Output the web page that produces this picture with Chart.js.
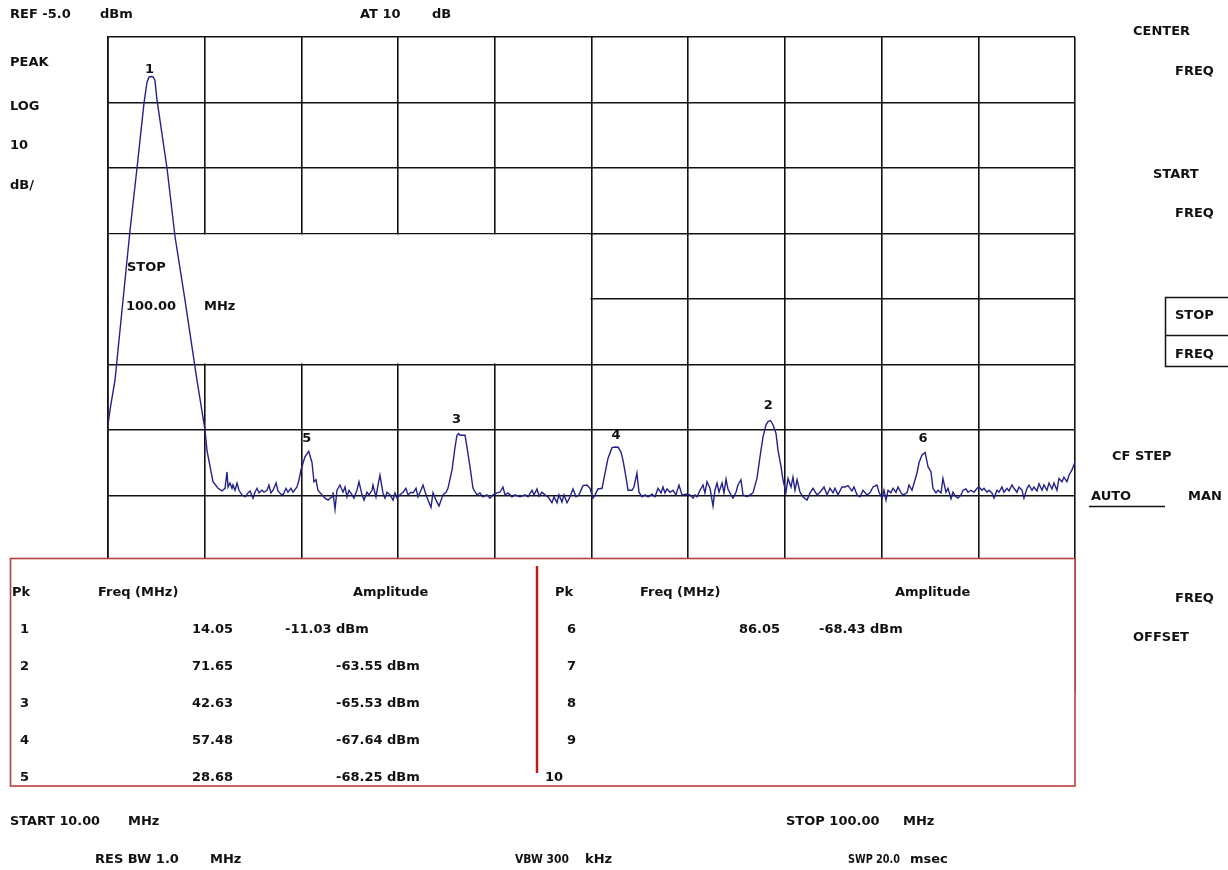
<!DOCTYPE html>
<html><head><meta charset="utf-8">
<script src="https://cdn.jsdelivr.net/npm/chart.js@4/dist/chart.umd.min.js"></script>
<style>html,body{margin:0;padding:0;background:#fff;}canvas{display:block;}</style>
</head><body>
<canvas id="c" width="1228" height="870"></canvas>
<script>
// ---- DATA ----
const traceFreq = [
10.00,10.19,10.65,12.05,12.70,13.35,13.63,13.82,14.05,14.19,14.37,14.56,15.49,16.24,17.17,18.28,19.03,19.21,19.77,20.24,
20.61,20.89,21.08,21.17,21.35,21.54,21.63,21.82,22.01,22.19,22.47,22.75,23.03,23.22,23.50,23.68,23.87,24.05,24.33,24.52,
24.80,24.98,25.17,25.36,25.64,25.82,26.10,26.29,26.57,26.75,27.03,27.22,27.59,27.78,27.96,28.33,28.68,28.99,29.17,29.36,
29.54,29.92,30.20,30.48,30.85,30.94,31.13,31.31,31.59,31.87,32.06,32.24,32.43,32.71,32.89,33.17,33.36,33.64,33.83,34.11,
34.29,34.57,34.66,34.94,35.13,35.31,35.59,35.78,35.97,36.25,36.53,36.71,36.90,37.18,37.46,37.73,37.92,38.20,38.39,38.67,
38.85,39.13,39.32,39.60,39.78,40.06,40.25,40.53,40.81,41.18,41.46,41.64,42.02,42.30,42.48,42.63,42.76,43.23,43.41,43.69,
43.97,44.34,44.62,44.90,45.27,45.55,45.83,46.20,46.48,46.76,46.95,47.23,47.60,47.88,48.35,48.81,49.09,49.46,49.65,49.93,
50.11,50.39,50.67,50.95,51.32,51.51,51.79,51.97,52.25,52.44,52.72,53.00,53.28,53.56,53.84,54.21,54.58,54.86,55.14,55.33,
55.60,55.98,56.26,56.54,56.91,57.19,57.48,57.75,57.93,58.21,58.40,58.77,58.95,59.23,59.42,59.70,59.98,60.26,60.63,60.91,
61.19,61.47,61.65,61.84,62.03,62.31,62.58,62.86,63.14,63.42,63.80,64.17,64.45,64.63,64.82,65.10,65.38,65.56,65.75,66.03,
66.31,66.49,66.68,66.87,67.15,67.33,67.52,67.70,67.98,68.17,68.45,68.63,68.91,69.10,69.47,69.75,70.03,70.40,70.68,70.96,
71.24,71.43,71.65,71.89,72.17,72.36,72.64,72.82,73.10,73.29,73.57,73.75,73.94,74.13,74.41,74.68,75.06,75.34,75.62,75.99,
76.27,76.64,76.92,77.20,77.48,77.66,77.94,78.31,78.59,78.87,79.24,79.43,79.71,79.99,80.27,80.64,80.92,81.20,81.57,81.76,
82.04,82.22,82.41,82.60,82.87,83.06,83.34,83.53,83.81,83.99,84.36,84.55,84.83,85.02,85.29,85.48,85.76,86.05,86.32,86.60,
86.78,87.06,87.25,87.53,87.71,87.99,88.18,88.46,88.64,88.92,89.11,89.39,89.58,89.85,90.04,90.32,90.60,90.88,91.06,91.34,
91.53,91.81,92.00,92.27,92.46,92.74,92.93,93.20,93.39,93.67,93.86,94.14,94.32,94.60,94.79,95.07,95.25,95.53,95.72,96.00,
96.18,96.46,96.65,96.93,97.11,97.39,97.58,97.86,98.04,98.32,98.51,98.79,98.97,99.25,99.44,99.72,100.00
];
const traceDbm = [
-64.2,-61.9,-57.4,-34.5,-25.0,-15.1,-11.9,-11.1,-11.03,-11.1,-11.6,-14.6,-25.0,-35.5,-45.2,-57.4,-65.0,-68.1,-72.9,-73.9,
-74.3,-73.9,-71.4,-73.7,-73.1,-73.9,-73.4,-74.2,-73.1,-74.2,-74.9,-75.2,-74.6,-74.3,-75.4,-74.5,-73.9,-74.6,-74.2,-74.5,
-74.2,-73.4,-74.6,-74.2,-73.1,-74.3,-74.8,-74.9,-73.9,-74.5,-73.9,-74.5,-73.7,-72.6,-71.1,-69.1,-68.25,-70.0,-72.9,-72.6,
-74.2,-74.9,-75.4,-75.7,-75.2,-74.5,-77.1,-74.2,-73.4,-74.5,-73.7,-75.2,-74.2,-74.9,-75.4,-74.2,-72.9,-74.9,-75.7,-74.5,
-74.9,-74.2,-73.4,-75.2,-73.4,-71.9,-74.6,-75.4,-74.5,-74.9,-75.7,-74.6,-75.4,-74.9,-74.5,-73.9,-74.9,-74.5,-74.6,-73.9,
-75.2,-74.2,-73.4,-74.9,-75.7,-76.8,-74.6,-75.7,-76.6,-74.9,-74.5,-73.9,-71.1,-67.6,-65.8,-65.53,-65.8,-65.8,-67.6,-70.6,
-73.9,-74.9,-74.6,-75.2,-74.9,-75.4,-74.9,-74.6,-74.5,-73.7,-74.9,-74.6,-75.2,-74.9,-75.2,-74.9,-75.2,-74.2,-74.9,-74.0,
-75.1,-74.5,-74.9,-75.2,-76.1,-75.2,-76.1,-74.9,-76.0,-74.9,-76.1,-75.2,-74.0,-75.2,-74.9,-73.5,-73.4,-73.9,-75.4,-74.9,
-74.0,-73.9,-71.6,-69.3,-67.7,-67.6,-67.64,-68.4,-69.6,-72.2,-74.2,-74.2,-73.7,-71.6,-74.5,-75.2,-74.9,-75.2,-74.8,-75.2,
-73.9,-74.6,-73.7,-74.6,-74.0,-74.5,-74.2,-74.9,-73.4,-74.9,-74.8,-74.9,-75.4,-74.9,-75.2,-74.2,-73.4,-74.6,-72.9,-73.9,
-76.6,-74.2,-73.1,-74.5,-73.1,-74.6,-72.5,-74.0,-74.9,-75.4,-74.5,-73.4,-72.6,-74.9,-75.2,-74.9,-74.6,-72.4,-69.1,-66.1,
-64.2,-63.7,-63.55,-64.2,-65.5,-68.1,-70.6,-72.6,-74.5,-72.4,-73.7,-72.2,-74.2,-72.6,-74.5,-75.2,-75.7,-74.6,-73.9,-74.9,
-74.5,-73.7,-74.9,-73.9,-74.6,-73.9,-74.9,-73.7,-73.7,-73.5,-74.3,-73.7,-74.9,-75.2,-74.2,-74.9,-74.6,-73.7,-73.4,-74.5,
-75.4,-74.2,-75.7,-74.2,-74.6,-73.9,-74.5,-73.7,-74.6,-74.9,-74.6,-73.4,-74.2,-73.1,-71.6,-70.0,-68.8,-68.43,-70.6,-71.4,
-73.9,-74.6,-74.2,-74.6,-72.4,-74.5,-73.9,-75.5,-74.5,-75.2,-75.4,-74.9,-74.2,-74.0,-74.5,-74.2,-74.5,-73.9,-73.7,-74.2,
-73.9,-74.5,-74.2,-74.6,-75.4,-74.2,-74.5,-73.7,-74.5,-73.9,-74.3,-73.4,-73.9,-74.5,-73.7,-74.2,-75.4,-73.9,-73.4,-74.2,
-73.7,-74.3,-73.2,-74.2,-73.4,-74.2,-73.1,-74.0,-73.1,-74.2,-72.4,-72.9,-72.2,-72.9,-71.9,-71.1,-69.9
];
const peakNum  = [1, 2, 3, 4, 5, 6];
const peakFreq = [14.05, 71.65, 42.63, 57.48, 28.68, 86.05];
const peakAmp  = [-11.03, -63.55, -65.53, -67.64, -68.25, -68.43];
const emptyRows = [7, 8, 9, 10];
const startMHz = 10, stopMHz = 100, refLevel = -5, dbPerDiv = 10, numDivY = 10;

// ---- STYLE ----
const FONT = 'bold 13px "DejaVu Sans"';
const INK = '#111';
const labelLift = [7, 15, 14, 12, 13, 14];
function txt(ctx, s, x, y, align, maxW) {
  ctx.textAlign = align || 'left';
  if (maxW) ctx.fillText(s, x, y, maxW); else ctx.fillText(s, x, y);
}

const overlay = {
  id: 'overlay',
  beforeDatasetsDraw(chart) {
    const {ctx, scales: {x, y}} = chart;
    const l = x.getPixelForValue(startMHz), r = x.getPixelForValue(55);
    const t = y.getPixelForValue(-35), b = y.getPixelForValue(-55);
    ctx.save();
    ctx.fillStyle = '#fff';
    ctx.fillRect(l + 1, t + 1, r - l - 2, b - t - 2);
    ctx.fillStyle = INK; ctx.font = FONT; ctx.textBaseline = 'middle';
    txt(ctx, 'STOP', 127, 268);
    txt(ctx, '100.00', 126, 307);
    txt(ctx, 'MHz', 204, 307);
    ctx.restore();
  },
  afterDraw(chart) {
    const {ctx, scales: {x, y}} = chart;
    ctx.save();
    ctx.fillStyle = INK; ctx.font = FONT; ctx.textBaseline = 'middle';
    peakNum.forEach((n, i) => {
      txt(ctx, String(n), x.getPixelForValue(peakFreq[i]) - 2, y.getPixelForValue(peakAmp[i]) - labelLift[i], 'center');
    });
    txt(ctx, 'REF -5.0', 10, 15); txt(ctx, 'dBm', 100, 15);
    txt(ctx, 'AT 10', 360, 15); txt(ctx, 'dB', 432, 15);
    txt(ctx, 'PEAK', 10, 63); txt(ctx, 'LOG', 10, 107); txt(ctx, '10', 10, 146); txt(ctx, 'dB/', 10, 186);
    txt(ctx, 'CENTER', 1133, 32); txt(ctx, 'FREQ', 1175, 72);
    txt(ctx, 'START', 1153, 175); txt(ctx, 'FREQ', 1175, 214);
    txt(ctx, 'STOP', 1175, 316); txt(ctx, 'FREQ', 1175, 355);
    txt(ctx, 'CF STEP', 1112, 457);
    txt(ctx, 'AUTO', 1091, 497); txt(ctx, 'MAN', 1188, 497);
    txt(ctx, 'FREQ', 1175, 599); txt(ctx, 'OFFSET', 1133, 638);
    ctx.strokeStyle = INK; ctx.lineWidth = 1.5;
    ctx.strokeRect(1165.5, 297.5, 80, 69);
    ctx.beginPath(); ctx.moveTo(1165, 335.5); ctx.lineTo(1228, 335.5);
    ctx.moveTo(1089, 506.5); ctx.lineTo(1165, 506.5); ctx.stroke();
    // marker table
    ctx.fillStyle = '#fff';
    ctx.fillRect(10, 558, 1065, 228);
    ctx.strokeStyle = '#b84040'; ctx.lineWidth = 1.6;
    ctx.strokeRect(10.5, 558.5, 1064.5, 227.5);
    ctx.strokeStyle = '#c01c1c'; ctx.lineWidth = 2.5;
    ctx.beginPath(); ctx.moveTo(537, 566); ctx.lineTo(537, 773); ctx.stroke();
    ctx.fillStyle = INK;
    const rowY = [630, 667, 704, 741, 778];
    txt(ctx, 'Pk', 12, 593); txt(ctx, 'Freq (MHz)', 98, 593); txt(ctx, 'Amplitude', 353, 593);
    txt(ctx, 'Pk', 555, 593); txt(ctx, 'Freq (MHz)', 640, 593); txt(ctx, 'Amplitude', 895, 593);
    peakNum.forEach((n, i) => {
      const right = i >= 5;
      const ry = rowY[right ? i - 5 : i];
      txt(ctx, String(n), right ? 567 : 20, ry);
      txt(ctx, peakFreq[i].toFixed(2), right ? 780 : 233, ry, 'right');
      txt(ctx, peakAmp[i].toFixed(2) + ' dBm', right ? 819 : (i === 0 ? 285 : 336), ry);
    });
    emptyRows.forEach((n, i) => {
      txt(ctx, String(n), n === 10 ? 545 : 567, rowY[i + 1]);
    });
    // footer
    txt(ctx, 'START 10.00', 10, 822, 'left', 90); txt(ctx, 'MHz', 128, 822);
    txt(ctx, 'STOP 100.00', 786, 822, 'left', 96); txt(ctx, 'MHz', 903, 822);
    txt(ctx, 'RES BW 1.0', 95, 860, 'left', 84); txt(ctx, 'MHz', 210, 860);
    txt(ctx, 'VBW 300', 515, 860, 'left', 54); txt(ctx, 'kHz', 585, 860);
    txt(ctx, 'SWP 20.0', 848, 860, 'left', 52); txt(ctx, 'msec', 910, 860);
    ctx.restore();
  }
};

new Chart(document.getElementById('c'), {
  type: 'line',
  data: {
    datasets: [{
      data: traceFreq.map((f, i) => ({x: f, y: traceDbm[i]})),
      borderColor: '#22228a',
      borderWidth: 1.4,
      pointRadius: 0,
      tension: 0,
      fill: false
    }]
  },
  options: {
    responsive: false,
    animation: false,
    layout: {padding: {left: 108, top: 37, right: 153, bottom: 178}},
    plugins: {legend: {display: false}, tooltip: {enabled: false}},
    scales: {
      x: {
        type: 'linear', min: startMHz, max: stopMHz,
        ticks: {display: false, stepSize: (stopMHz - startMHz) / 10},
        grid: {color: INK, lineWidth: 1.6, drawTicks: false},
        border: {display: true, color: INK, width: 1.6},
        afterFit(s) { s.height = 0; }
      },
      y: {
        min: refLevel - dbPerDiv * numDivY, max: refLevel,
        ticks: {display: false, stepSize: dbPerDiv},
        grid: {color: INK, lineWidth: 1.6, drawTicks: false},
        border: {display: true, color: INK, width: 1.6},
        afterFit(s) { s.width = 0; }
      }
    }
  },
  plugins: [overlay]
});
</script>
</body></html>
